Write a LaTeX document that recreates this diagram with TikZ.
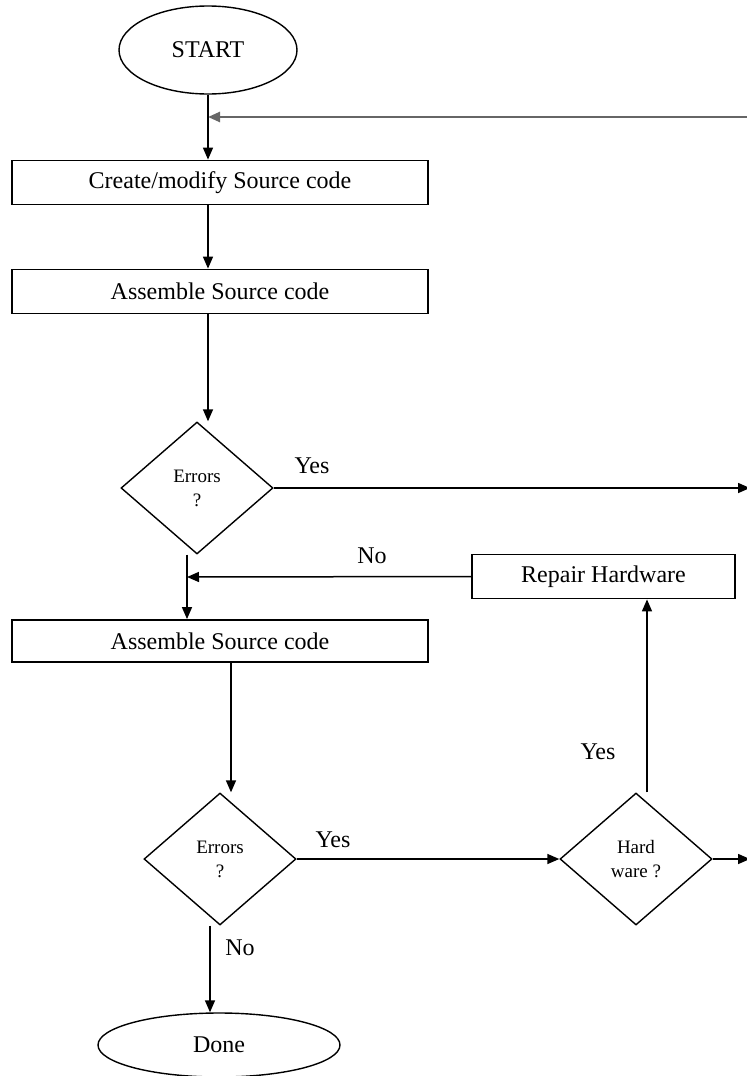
\documentclass[tikz,border=0pt]{standalone}
\usepackage{fontspec}
\setmainfont{Liberation Serif}
\usetikzlibrary{positioning, calc, arrows.meta, shapes.geometric}

\begin{document}
\begin{tikzpicture}[
    x=0.5pt, y=-0.5pt,
    procbox/.style={
        draw, rectangle,
        line width=0.9pt,
        minimum width=208pt, minimum height=22pt,
        inner sep=0pt,
        font=\fontsize{12}{14}\selectfont
    },
    termnode/.style={
        draw, ellipse,
        line width=0.7pt,
        inner sep=0pt,
        font=\fontsize{12}{14}\selectfont
    },
    decision/.style={
        draw, diamond,
        line width=0.7pt,
        inner sep=0pt,
        minimum width=76pt, minimum height=66pt,
        align=center,
        font=\fontsize{9.5}{12}\selectfont
    },
    arrow/.style={
        -{Triangle[length=6pt, width=5pt]},
        line width=0.75pt
    },
    lbl/.style={font=\fontsize{12}{14}\selectfont}
]

\useasboundingbox (0,0) rectangle (746,1076);

% main column
\node[termnode, minimum width=89pt, minimum height=44pt] (start) at (208,50) {START};
\node[procbox] (create) at (220,182.5) {Create/modify Source code};
\node[procbox] (asm1) at (220,291.5) {Assemble Source code};
\node[decision] (err1) at (197,488) {Errors\\?};
\node[procbox, minimum height=21pt] (asm2) at (220,641) {Assemble Source code};
\node[decision] (err2) at (220,859) {Errors\\?};
\node[termnode, minimum width=121pt, minimum height=32pt] (done) at (219,1045) {Done};

% hardware branch
\node[procbox, minimum width=131.5pt] (repair) at (603.5,576.5) {Repair Hardware};
\node[decision] (hw) at (636,859) {Hard\\ware ?};

% free ends and joins
\coordinate (loopin) at (749,117);
\coordinate (yesout) at (750,488);
\coordinate (hwout) at (750,859);
\coordinate (merge) at (187,577);
\coordinate (err2out) at ($(asm2.south)+(11,0)$);
\coordinate (hwup) at ($(hw.north)+(11,0)$);
\coordinate (donein) at ($(err2.south)+(-10,0)$);

% connectors
\draw[arrow, black!60, line width=1.2pt] (loopin) -- (start.south |- loopin);
\draw[arrow] (start.south) -- (start.south |- create.north);
\draw[arrow] (start.south |- create.south) -- (start.south |- asm1.north);
\draw[arrow] (start.south |- asm1.south) -- (start.south |- err1.north);
\draw[arrow] (err1.east) -- (yesout);
\draw[arrow] (merge |- err1.south) -- (merge |- asm2.north);
\draw[arrow] (repair.west) -- (merge);
\draw[arrow] (err2out) -- (err2out |- err2.north);
\draw[arrow] (err2.east) -- (hw.west);
\draw[arrow] (hw.east) -- (hwout);
\draw[arrow] (hwup) -- (hwup |- repair.south);
\draw[arrow] (donein) -- (donein |- done.north);

% labels
\node[lbl] (yes1) at (312,466) {Yes};
\node[lbl] (no1) at (372,556) {No};
\node[lbl] (yes2) at (333,840) {Yes};
\node[lbl] (yes3) at (598,752) {Yes};
\node[lbl] (no2) at (240,948) {No};

\end{tikzpicture}
\end{document}
